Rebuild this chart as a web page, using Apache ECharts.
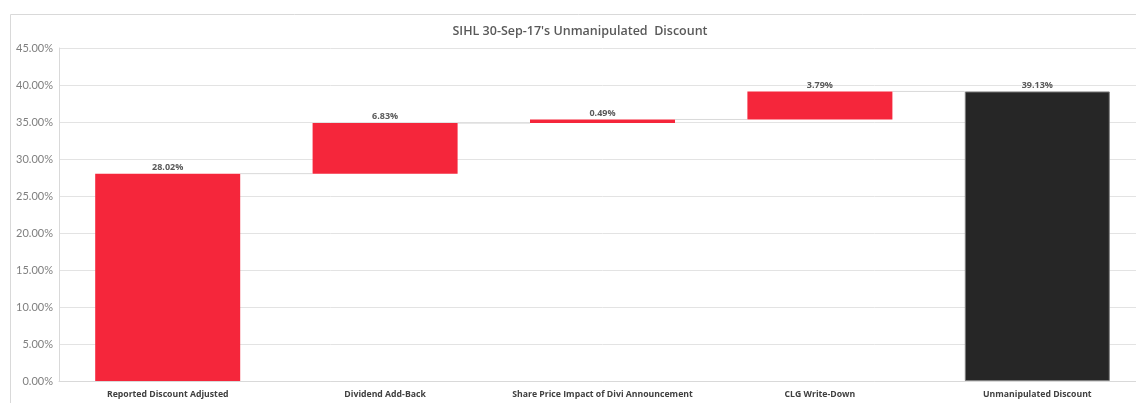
<!DOCTYPE html>
<html><head><meta charset="utf-8">
<script src="https://cdn.jsdelivr.net/npm/echarts@6/dist/echarts.min.js"></script>
<style>html,body{margin:0;padding:0;background:#fff;overflow:hidden;width:1136px;height:403px}#c{width:1146px;height:403px}</style>
</head><body><div id="c"></div>
<script>
const categories = ['Reported Discount Adjusted','Dividend Add-Back','Share Price Impact of Divi Announcement','CLG Write-Down','Unmanipulated Discount'];
const deltas = [28.02, 6.83, 0.49, 3.79];
const total = 39.13;
const yTicks = [0,5,10,15,20,25,30,35,40,45];

const bases = [], visible = [], tops = [];
let run = 0;
deltas.forEach((d,i)=>{ bases.push(i===0?0:run); visible.push(d); run += d; tops.push(run); });
bases.push(0); visible.push(total); tops.push(total);

const chart = echarts.init(document.getElementById('c'));
chart.setOption({
  animation:false,
  graphic:[{type:'rect',shape:{x:10.5,y:14.5,width:1200,height:500},style:{fill:'none',stroke:'#d9d9d9',lineWidth:1},silent:true}],
  title:{text:"SIHL 30-Sep-17's Unmanipulated  Discount",left:575,top:20,textAlign:'center',
    textStyle:{fontFamily:'Open Sans',fontSize:12.5,fontWeight:600,color:'#595959'}},
  grid:{left:59,right:0,top:48,bottom:22,containLabel:false},
  xAxis:{type:'category',data:categories,
    axisLine:{show:true,lineStyle:{color:'#d9d9d9'}},axisTick:{show:false},
    axisLabel:{interval:0,margin:9,fontFamily:'Open Sans',fontSize:8.7,fontWeight:'bold',color:'#404040'}},
  yAxis:{type:'value',min:0,max:45,interval:5,
    axisLine:{show:true,lineStyle:{color:'#d9d9d9'}},axisTick:{show:false},
    splitLine:{lineStyle:{color:'#e3e3e3',width:1}},
    axisLabel:{margin:6,fontFamily:'Lato',fontSize:11,color:'#7f7f7f',formatter:v=>v.toFixed(2)+'%'}},
  series:[
    {type:'bar',stack:'w',barWidth:145,data:bases,itemStyle:{color:'transparent'},silent:true},
    {type:'bar',stack:'w',barWidth:145,
      data:visible.map((v,i)=>({value:v,itemStyle:{color:i===4?'#262626':'#f5263b',borderColor:i===4?'#7f7f7f':'#f5263b',borderWidth:i===4?1:0}})),
      label:{show:true,position:'top',distance:2,fontFamily:'Open Sans',fontSize:9,fontWeight:'bold',color:'#595959',formatter:p=>p.value.toFixed(2)+'%'}},
    {type:'custom',silent:true,z:1,
      data:tops.slice(0,4).map((t,i)=>[i,t]),
      renderItem:(params,api)=>{
        const i=api.value(0), t=api.value(1);
        const p1=api.coord([i,t]), p2=api.coord([i+1,t]);
        const half=72.5;
        return {type:'line',shape:{x1:p1[0]+half,y1:p1[1],x2:p2[0]-half,y2:p2[1]},style:{stroke:'#d9d9d9',lineWidth:1}};
      }}
  ]
});
</script></body></html>
